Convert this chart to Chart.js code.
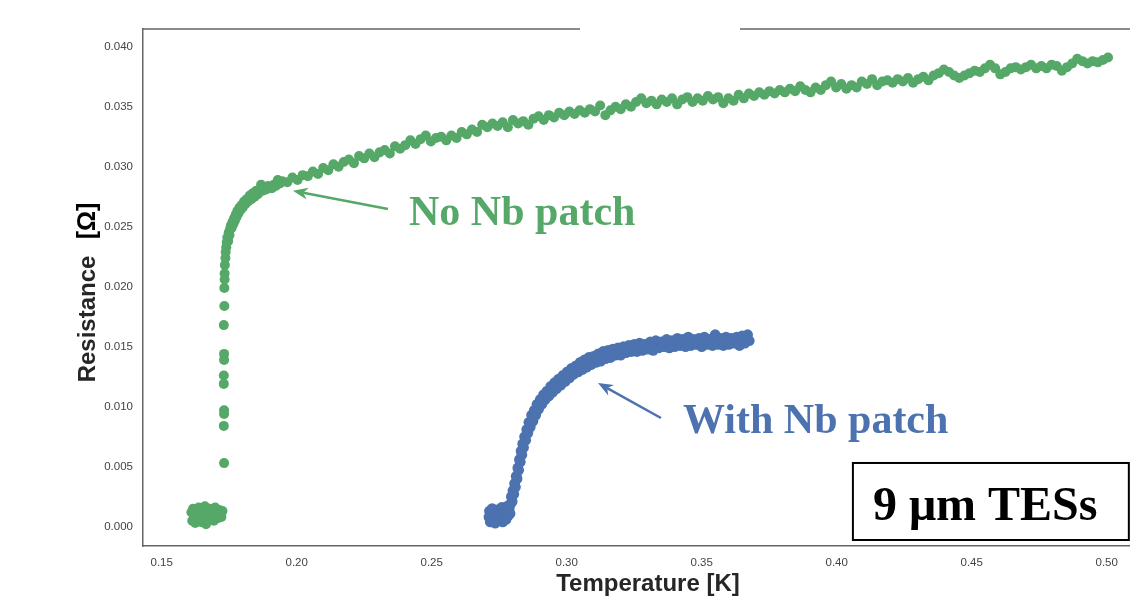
<!DOCTYPE html>
<html>
<head>
<meta charset="utf-8">
<script src="https://cdn.jsdelivr.net/npm/chart.js@4.4.0/dist/chart.umd.min.js"></script>
<style>
  html, body { margin: 0; padding: 0; background: #fff; }
  #wrap { position: relative; width: 1130px; height: 608px; }
</style>
</head>
<body>
<div id="wrap"><canvas id="rtChart"></canvas></div>
<script>
// R(T) of 9 um TESs: [temperature K, resistance Ohm]
const noPatchLow = [
  [0.1610,0.0012],[0.1613,0.0005],[0.1616,0.0015],[0.1620,0.0009],[0.1624,0.0003],[0.1628,0.0013],
  [0.1632,0.0007],[0.1637,0.0016],[0.1641,0.0010],[0.1645,0.0004],[0.1650,0.0014],[0.1655,0.0008],
  [0.1660,0.0017],[0.1664,0.0002],[0.1668,0.0011],[0.1673,0.0006],[0.1678,0.0015],[0.1683,0.0009],
  [0.1688,0.0013],[0.1693,0.0005],[0.1698,0.0016],[0.1703,0.0010],[0.1708,0.0007],[0.1713,0.0014],
  [0.1717,0.0011],[0.1721,0.0008],[0.1725,0.0013]
];
const noPatchTransition = [
  [0.1731,0.0053],[0.1730,0.0084],[0.1731,0.0094],[0.1731,0.0097],[0.1730,0.0119],[0.1730,0.0126],
  [0.1731,0.0139],[0.1731,0.0144],[0.1730,0.0168],[0.1732,0.0184],[0.1732,0.0199],[0.1733,0.0206],
  [0.1733,0.0211],[0.1734,0.0218],[0.1736,0.0224],[0.1737,0.0229],[0.1739,0.0233],[0.1741,0.0237],
  [0.1743,0.0241],[0.1746,0.0238],[0.1748,0.0245],[0.1751,0.0243],[0.1753,0.0248],[0.1756,0.0251],
  [0.1759,0.0249],[0.1762,0.0254],[0.1765,0.0252],[0.1768,0.0257],[0.1771,0.0255],[0.1774,0.0260],
  [0.1777,0.0258],[0.1780,0.0263],[0.1784,0.0261],[0.1788,0.0266],[0.1792,0.0264],[0.1796,0.0268],
  [0.1800,0.0266],[0.1805,0.0271],[0.1810,0.0269],[0.1815,0.0273],[0.1820,0.0271],[0.1826,0.0276],
  [0.1832,0.0273],[0.1838,0.0278],[0.1844,0.0275],[0.1850,0.0280],[0.1856,0.0277],[0.1862,0.0279],
  [0.1868,0.0285],[0.1874,0.0280],[0.1880,0.0282],[0.1887,0.0281],[0.1894,0.0284],[0.1901,0.0283],
  [0.1908,0.0282],[0.1915,0.0285],[0.1922,0.0284],[0.1930,0.0289],[0.1938,0.0286]
];
const noPatchNormal = [
  [0.1946,0.0288],[0.1965,0.0287],[0.1984,0.0291],[0.2003,0.0289],[0.2022,0.0293],[0.2041,0.0292],
  [0.2060,0.0296],[0.2079,0.0294],[0.2098,0.0299],[0.2117,0.0297],[0.2136,0.0302],[0.2155,0.0300],
  [0.2174,0.0304],[0.2193,0.0306],[0.2212,0.0303],[0.2231,0.0309],[0.2250,0.0307],[0.2269,0.0311],
  [0.2288,0.0308],[0.2307,0.0312],[0.2326,0.0314],[0.2345,0.0311],[0.2364,0.0317],[0.2383,0.0315],
  [0.2402,0.0318],[0.2421,0.0322],[0.2440,0.0319],[0.2459,0.0323],[0.2478,0.0326],[0.2497,0.0321],
  [0.2516,0.0324],[0.2535,0.0325],[0.2554,0.0322],[0.2573,0.0326],[0.2592,0.0324],[0.2611,0.0329],
  [0.2630,0.0327],[0.2649,0.0331],[0.2668,0.0329],[0.2687,0.0335],[0.2706,0.0333],[0.2725,0.0336],
  [0.2744,0.0334],[0.2763,0.0337],[0.2782,0.0333],[0.2801,0.0339],[0.2820,0.0336],[0.2839,0.0338],
  [0.2858,0.0335],[0.2877,0.0340],[0.2896,0.0342],[0.2915,0.0339],[0.2934,0.0343],[0.2953,0.0341],
  [0.2972,0.0345],[0.2991,0.0343],[0.3010,0.0346],[0.3029,0.0344],[0.3048,0.0347],[0.3067,0.0345],
  [0.3086,0.0348],[0.3105,0.0346],[0.3124,0.0351],[0.3143,0.0343],[0.3162,0.0347],[0.3181,0.0350],
  [0.3200,0.0348],[0.3219,0.0352],[0.3238,0.0350],[0.3257,0.0354],[0.3276,0.0357],[0.3295,0.0353],
  [0.3314,0.0355],[0.3333,0.0352],[0.3352,0.0356],[0.3371,0.0354],[0.3390,0.0357],[0.3409,0.0352],
  [0.3428,0.0356],[0.3447,0.0358],[0.3466,0.0354],[0.3485,0.0357],[0.3504,0.0355],[0.3523,0.0359],
  [0.3542,0.0356],[0.3561,0.0358],[0.3580,0.0353],[0.3599,0.0357],[0.3618,0.0355],[0.3637,0.0360],
  [0.3656,0.0357],[0.3675,0.0361],[0.3694,0.0359],[0.3713,0.0362],[0.3732,0.0360],[0.3751,0.0363],
  [0.3770,0.0361],[0.3789,0.0364],[0.3808,0.0362],[0.3827,0.0365],[0.3846,0.0363],[0.3865,0.0367],
  [0.3884,0.0364],[0.3903,0.0362],[0.3922,0.0366],[0.3941,0.0364],[0.3960,0.0368],[0.3979,0.0371],
  [0.3998,0.0366],[0.4017,0.0369],[0.4036,0.0365],[0.4055,0.0368],[0.4074,0.0366],[0.4093,0.0371],
  [0.4112,0.0369],[0.4131,0.0373],[0.4150,0.0368],[0.4169,0.0371],[0.4188,0.0372],[0.4207,0.0370],
  [0.4226,0.0373],[0.4245,0.0371],[0.4264,0.0374],[0.4283,0.0370],[0.4302,0.0373],[0.4321,0.0375],
  [0.4340,0.0372],[0.4359,0.0376],[0.4378,0.0378],[0.4397,0.0381],[0.4416,0.0379],[0.4435,0.0376],
  [0.4454,0.0374],[0.4473,0.0376],[0.4492,0.0378],[0.4511,0.0380],[0.4530,0.0379],[0.4549,0.0382],
  [0.4568,0.0385],[0.4587,0.0382],[0.4606,0.0377],[0.4625,0.0379],[0.4644,0.0382],[0.4663,0.0383],
  [0.4682,0.0381],[0.4701,0.0383],[0.4720,0.0385],[0.4739,0.0382],[0.4758,0.0384],[0.4777,0.0382],
  [0.4796,0.0385],[0.4815,0.0384],[0.4834,0.0380],[0.4853,0.0383],[0.4872,0.0386],[0.4891,0.0390],
  [0.4910,0.0388],[0.4929,0.0386],[0.4948,0.0388],[0.4967,0.0387],[0.4986,0.0389],[0.5005,0.0391]
];
const withPatchLow = [
  [0.2712,0.0008],[0.2714,0.0013],[0.2717,0.0004],[0.2720,0.0010],[0.2724,0.0015],[0.2727,0.0006],
  [0.2731,0.0011],[0.2735,0.0003],[0.2739,0.0009],[0.2743,0.0014],[0.2747,0.0005],[0.2751,0.0012],
  [0.2755,0.0007],[0.2759,0.0016],[0.2763,0.0004],[0.2767,0.0010],[0.2771,0.0013],[0.2775,0.0006],
  [0.2779,0.0017],[0.2783,0.0009],[0.2787,0.0015],[0.2790,0.0011]
];
const withPatchRise = [
  [0.2792,0.0019],[0.2795,0.0025],[0.2798,0.0021],[0.2801,0.0030],[0.2804,0.0027],[0.2807,0.0036],
  [0.2810,0.0033],[0.2813,0.0042],[0.2816,0.0040],[0.2819,0.0049],[0.2822,0.0047],[0.2825,0.0056],
  [0.2828,0.0054],[0.2831,0.0063],[0.2834,0.0060],[0.2837,0.0069],[0.2840,0.0066],[0.2844,0.0075],
  [0.2848,0.0072],[0.2852,0.0081],[0.2856,0.0078],[0.2860,0.0087],[0.2865,0.0083],[0.2870,0.0093],
  [0.2875,0.0088],[0.2880,0.0097],[0.2885,0.0093],[0.2890,0.0102],[0.2896,0.0098],[0.2902,0.0106],
  [0.2908,0.0102],[0.2914,0.0110],[0.2920,0.0106],[0.2927,0.0113],[0.2934,0.0109],[0.2941,0.0117],
  [0.2948,0.0112],[0.2955,0.0120],[0.2962,0.0115],[0.2970,0.0123],[0.2978,0.0118],[0.2986,0.0126],
  [0.2994,0.0121],[0.3002,0.0129],[0.3010,0.0124],[0.3018,0.0132],[0.3026,0.0127],[0.3034,0.0134],
  [0.3042,0.0129],[0.3050,0.0137],[0.3058,0.0131],[0.3066,0.0139],[0.3074,0.0133],[0.3082,0.0141],
  [0.3090,0.0135],[0.3099,0.0142],[0.3108,0.0137],[0.3117,0.0144],[0.3126,0.0138],[0.3135,0.0146],
  [0.3144,0.0140],[0.3153,0.0147],[0.3162,0.0141],[0.3171,0.0148],[0.3180,0.0143],[0.3190,0.0149]
];
const withPatchNormal = [
  [0.3200,0.0143],[0.3210,0.0150],[0.3220,0.0145],[0.3230,0.0151],[0.3240,0.0146],[0.3250,0.0152],
  [0.3260,0.0146],[0.3270,0.0153],[0.3280,0.0147],[0.3290,0.0152],[0.3300,0.0148],[0.3310,0.0154],
  [0.3320,0.0147],[0.3330,0.0155],[0.3340,0.0149],[0.3350,0.0154],[0.3360,0.0150],[0.3370,0.0156],
  [0.3380,0.0149],[0.3390,0.0155],[0.3400,0.0150],[0.3410,0.0157],[0.3420,0.0151],[0.3430,0.0156],
  [0.3440,0.0150],[0.3450,0.0158],[0.3460,0.0151],[0.3470,0.0156],[0.3480,0.0152],[0.3490,0.0157],
  [0.3500,0.0150],[0.3510,0.0158],[0.3520,0.0152],[0.3530,0.0156],[0.3540,0.0151],[0.3550,0.0160],
  [0.3560,0.0152],[0.3570,0.0157],[0.3580,0.0151],[0.3590,0.0158],[0.3600,0.0152],[0.3610,0.0157],
  [0.3620,0.0153],[0.3630,0.0158],[0.3640,0.0151],[0.3650,0.0159],[0.3660,0.0153],[0.3670,0.0160],
  [0.3676,0.0155]
];

const xTickValues = [0.15, 0.20, 0.25, 0.30, 0.35, 0.40, 0.45, 0.50];
const yTickValues = [0.000, 0.005, 0.010, 0.015, 0.020, 0.025, 0.030, 0.035, 0.040];

const GREEN = '#55a868';
const BLUE = '#4c72b0';

const toXY = pts => pts.map(p => ({ x: p[0], y: p[1] }));

function drawArrow(ctx, x1, y1, x2, y2, color) {
  const ang = Math.atan2(y2 - y1, x2 - x1);
  const head = 15, half = 6;
  ctx.strokeStyle = color;
  ctx.fillStyle = color;
  ctx.lineWidth = 2.5;
  ctx.beginPath();
  ctx.moveTo(x1, y1);
  ctx.lineTo(x2 - head * 0.7 * Math.cos(ang), y2 - head * 0.7 * Math.sin(ang));
  ctx.stroke();
  ctx.beginPath();
  ctx.moveTo(x2, y2);
  ctx.lineTo(x2 - head * Math.cos(ang) + half * Math.sin(ang), y2 - head * Math.sin(ang) - half * Math.cos(ang));
  ctx.lineTo(x2 - head * 0.7 * Math.cos(ang), y2 - head * 0.7 * Math.sin(ang));
  ctx.lineTo(x2 - head * Math.cos(ang) - half * Math.sin(ang), y2 - head * Math.sin(ang) + half * Math.cos(ang));
  ctx.closePath();
  ctx.fill();
}

const decorations = {
  id: 'decorations',
  afterDraw(chart) {
    const { ctx, chartArea: a, scales: { x, y } } = chart;
    const px = v => x.getPixelForValue(v);
    const py = v => y.getPixelForValue(v);
    ctx.save();

    // top spine, interrupted where the slide had a white patch
    ctx.strokeStyle = '#666';
    ctx.lineWidth = 1.5;
    ctx.beginPath();
    ctx.moveTo(a.left, a.top); ctx.lineTo(580, a.top);
    ctx.moveTo(740, a.top); ctx.lineTo(a.right, a.top);
    ctx.stroke();

    // axis titles
    ctx.fillStyle = '#262626';
    ctx.font = 'bold 24px "Liberation Sans", Arial, sans-serif';
    ctx.textAlign = 'center';
    ctx.textBaseline = 'alphabetic';
    ctx.fillText('Temperature [K]', 648, 591);

    ctx.save();
    ctx.translate(95, 319);
    ctx.rotate(-Math.PI / 2);
    ctx.fillText('Resistance', 0, 0);
    ctx.restore();
    ctx.save();
    ctx.translate(95, 221);
    ctx.rotate(-Math.PI / 2);
    ctx.fillStyle = '#000';
    ctx.font = 'bold 25px "Liberation Sans", Arial, sans-serif';
    ctx.fillText('[\u03A9]', 0, 0);
    ctx.restore();

    // curve labels and arrows
    drawArrow(ctx, px(0.2338), py(0.02648), px(0.1986), py(0.0280), GREEN);
    drawArrow(ctx, px(0.3349), py(0.00906), px(0.3116), py(0.01198), BLUE);
    ctx.textAlign = 'left';
    ctx.font = 'bold 42px "Liberation Serif", "Times New Roman", serif';
    ctx.fillStyle = GREEN;
    ctx.fillText('No Nb patch', px(0.2416), py(0.02513));
    ctx.fillStyle = BLUE;
    ctx.fillText('With Nb patch', px(0.3431), py(0.00781));

    // boxed caption
    const bx1 = px(0.4060), bx2 = px(0.5082), by1 = py(0.00531), by2 = py(-0.00111);
    ctx.fillStyle = '#fff';
    ctx.fillRect(bx1, by1, bx2 - bx1, by2 - by1);
    ctx.strokeStyle = '#000';
    ctx.lineWidth = 2;
    ctx.strokeRect(bx1, by1, bx2 - bx1, by2 - by1);
    ctx.fillStyle = '#000';
    ctx.font = 'bold 48px "Liberation Serif", "Times New Roman", serif';
    ctx.fillText('9 \u03BCm TESs', px(0.4134), py(0.00056));

    ctx.restore();
  }
};

const tickFont = { family: '"Liberation Sans", Arial, sans-serif', size: 11.5 };

new Chart(document.getElementById('rtChart'), {
  type: 'scatter',
  data: {
    datasets: [{
      label: 'No Nb patch',
      data: toXY(noPatchLow.concat(noPatchTransition, noPatchNormal)),
      backgroundColor: GREEN,
      borderWidth: 0,
      pointRadius: 5
    }, {
      label: 'With Nb patch',
      data: toXY(withPatchLow.concat(withPatchRise, withPatchNormal)),
      backgroundColor: BLUE,
      borderWidth: 0,
      pointRadius: 5.4
    }]
  },
  options: {
    responsive: true,
    maintainAspectRatio: false,
    animation: false,
    layout: { autoPadding: false, padding: { top: 29, left: 0, right: 0, bottom: 0 } },
    plugins: {
      legend: { display: false },
      tooltip: { enabled: false }
    },
    scales: {
      x: {
        type: 'linear',
        min: 0.14307,
        max: 0.50863,
        afterFit: s => { s.height = 62; s.paddingLeft = 0; s.paddingRight = 0; },
        afterBuildTicks: s => { s.ticks = xTickValues.map(v => ({ value: v })); },
        grid: { display: false, drawTicks: false },
        border: { display: true, color: '#666', width: 1.5 },
        ticks: {
          font: tickFont,
          color: '#444',
          padding: 10,
          maxRotation: 0,
          callback: v => v.toFixed(2)
        }
      },
      y: {
        type: 'linear',
        min: -0.00161,
        max: 0.04148,
        afterFit: s => { s.width = 143; s.paddingTop = 0; s.paddingBottom = 0; },
        afterBuildTicks: s => { s.ticks = yTickValues.map(v => ({ value: v })); },
        grid: { display: false, drawTicks: false },
        border: { display: true, color: '#666', width: 1.5 },
        ticks: {
          font: tickFont,
          color: '#444',
          padding: 10,
          callback: v => v.toFixed(3)
        }
      }
    }
  },
  plugins: [decorations]
});
</script>
</body>
</html>
